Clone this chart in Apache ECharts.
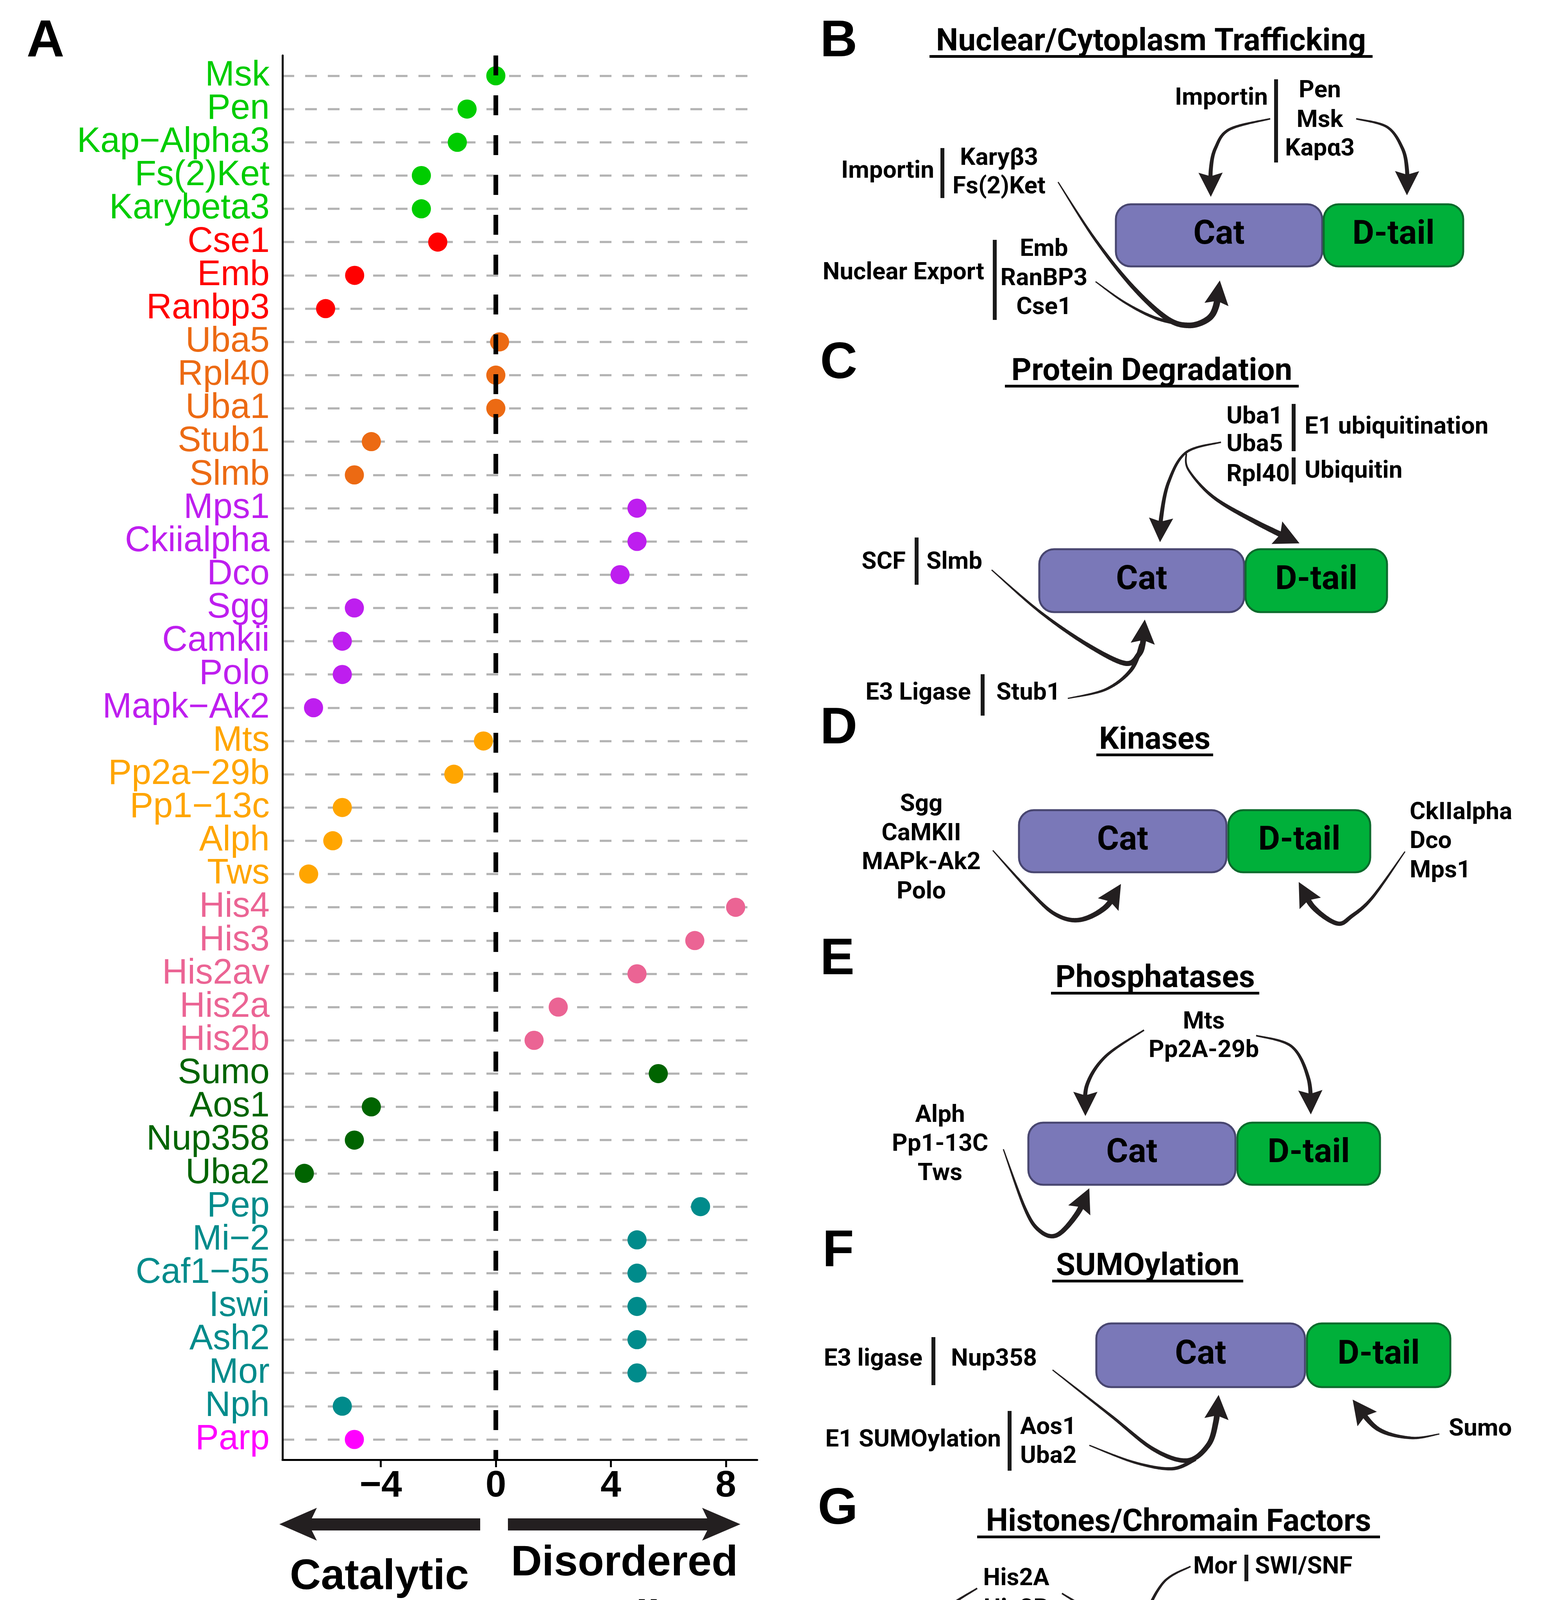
<!DOCTYPE html>
<html><head><meta charset="utf-8">
<script src="https://cdn.jsdelivr.net/npm/echarts@6/dist/echarts.min.js"></script>
<style>html,body{margin:0;padding:0;background:#fff}#c{width:3962px;height:4877px}</style>
</head><body><div id="c"></div>
<script>
// ---------------- DATA (panel A) ----------------
const categories = ['Msk','Pen','Kap\u2212Alpha3','Fs(2)Ket','Karybeta3','Cse1','Emb','Ranbp3','Uba5','Rpl40','Uba1','Stub1','Slmb',
  'Mps1','Ckiialpha','Dco','Sgg','Camkii','Polo','Mapk\u2212Ak2','Mts','Pp2a\u221229b','Pp1\u221213c','Alph','Tws',
  'His4','His3','His2av','His2a','His2b','Sumo','Aos1','Nup358','Uba2','Pep','Mi\u22122','Caf1\u221255','Iswi','Ash2','Mor','Nph','Parp'];
const values = [0, -1.00, -1.34, -2.59, -2.59, -2.02, -4.91, -5.92, 0.13, 0, 0, -4.33, -4.92,
  4.91, 4.91, 4.32, -4.92, -5.34, -5.34, -6.34, -0.43, -1.46, -5.34, -5.67, -6.51,
  8.34, 6.92, 4.91, 2.17, 1.33, 5.65, -4.33, -4.92, -6.66, 7.12, 4.91, 4.91, 4.91, 4.91, 4.91, -5.34, -4.92];
const groups = ['Nuclear Import','Nuclear Import','Nuclear Import','Nuclear Import','Nuclear Import',
  'Nuclear Export','Nuclear Export','Nuclear Export',
  'Degradation','Degradation','Degradation','Degradation','Degradation',
  'Kinase','Kinase','Kinase','Kinase','Kinase','Kinase','Kinase',
  'Phosphatase','Phosphatase','Phosphatase','Phosphatase','Phosphatase',
  'Histone','Histone','Histone','Histone','Histone',
  'SUMO','SUMO','SUMO','SUMO',
  'Chromatin factor','Chromatin factor','Chromatin factor','Chromatin factor','Chromatin factor','Chromatin factor','Chromatin factor',
  'Parp1'];
const functionNames = ['Nuclear Import','Nuclear Export','Degradation','Kinase','Phosphatase','Histone','Chromatin factor','Parp1','SUMO'];
const functionColors = ['#00CC00','#FF0000','#EC6A13','#BE1EEF','#FFA500','#EB6494','#008B8B','#FF00FF','#006400'];
const legendCol1 = ['Nuclear Import','Nuclear Export','Degradation','Kinase','Phosphatase'];
const legendCol2 = ['Histone','Chromatin factor','Parp1','SUMO'];
const xTicks = [-4, 0, 4, 8];
const xRange = [-7.42, 9.09];

// ---------------- helpers for diagram panels ----------------
const ARROW = '#231f20';
const G = [];
function txt(text, x, bl, align, size, weight, family) {
  size = size || 62; weight = weight || 'bold'; family = family || 'Roboto';
  G.push({type:'text', silent:true, z:10, style:{text:text, x:x, y:bl - 0.342*size, fill:'#000',
    fontSize:size, fontWeight:weight, fontFamily:family, align:align, verticalAlign:'middle',
    textAlign:align, textVerticalAlign:'middle'}});
}
function bar(x, y0, y1) {
  G.push({type:'rect', silent:true, z:10, shape:{x:x-5, y:y0, width:10, height:y1-y0}, style:{fill:'#1a1a1a'}});
}
function title(text, x0, x1, bl) {
  txt(text, (x0+x1)/2, bl, 'center', 80);
  G.push({type:'rect', silent:true, z:10, shape:{x:x0, y:bl+5, width:x1-x0, height:7}, style:{fill:'#000'}});
}
function letter(t, x, bl) { txt(t, x, bl, 'left', 132, 'bold', 'Liberation Sans'); }
function boxes(c0, c1, d0, d1, y0, y1) {
  G.push({type:'rect', silent:true, z:8, shape:{x:c0, y:y0, width:c1-c0, height:y1-y0, r:38},
    style:{fill:'#7A78B8', stroke:'#484670', lineWidth:5}});
  G.push({type:'rect', silent:true, z:8, shape:{x:d0, y:y0, width:d1-d0, height:y1-y0, r:38},
    style:{fill:'#00B03A', stroke:'#0C6B2C', lineWidth:5}});
  const ym = (y0+y1)/2;
  G.push({type:'text', silent:true, z:11, style:{text:'Cat', x:(c0+c1)/2, y:ym, fill:'#000', fontSize:86, fontWeight:'bold',
    fontFamily:'Roboto', align:'center', verticalAlign:'middle', textAlign:'center', textVerticalAlign:'middle'}});
  G.push({type:'text', silent:true, z:11, style:{text:'D-tail', x:(d0+d1)/2, y:ym, fill:'#000', fontSize:86, fontWeight:'bold',
    fontFamily:'Roboto', align:'center', verticalAlign:'middle', textAlign:'center', textVerticalAlign:'middle'}});
}
function catmull(pts, n) {
  const out = [];
  for (let i = 0; i < pts.length-1; i++) {
    const p0 = pts[Math.max(i-1,0)], p1 = pts[i], p2 = pts[i+1], p3 = pts[Math.min(i+2,pts.length-1)];
    for (let k = 0; k < n; k++) {
      const t = k/n, t2 = t*t, t3 = t2*t;
      const f = (a,b,c,d) => 0.5*((2*b)+(-a+c)*t+(2*a-5*b+4*c-d)*t2+(-a+3*b-3*c+d)*t3);
      out.push([f(p0[0],p1[0],p2[0],p3[0]), f(p0[1],p1[1],p2[1],p3[1])]);
    }
  }
  out.push(pts[pts.length-1]);
  return out;
}
function arrow(pts, w0, w1, head) {
  const s = catmull(pts, 30);
  const L = [0];
  for (let i = 1; i < s.length; i++) L.push(L[i-1] + Math.hypot(s[i][0]-s[i-1][0], s[i][1]-s[i-1][1]));
  const total = L[L.length-1];
  const stop = head ? total - head.len*0.5 : total;
  const left = [], right = [];
  for (let i = 0; i < s.length; i++) {
    if (L[i] > stop) break;
    const a = s[Math.max(i-1,0)], b = s[Math.min(i+1,s.length-1)];
    let dx = b[0]-a[0], dy = b[1]-a[1]; const d = Math.hypot(dx,dy)||1; dx/=d; dy/=d;
    const w = (w0 + (w1-w0)*L[i]/total)/2;
    left.push([s[i][0]-dy*w, s[i][1]+dx*w]);
    right.push([s[i][0]+dy*w, s[i][1]-dx*w]);
  }
  G.push({type:'polygon', silent:true, z:9, shape:{points:left.concat(right.reverse())}, style:{fill:ARROW}});
  if (head) {
    const tip = s[s.length-1];
    let j = L.findIndex(v => v >= total - head.len); if (j < 0) j = 0;
    const bp = s[j];
    let dx = tip[0]-bp[0], dy = tip[1]-bp[1]; const d = Math.hypot(dx,dy)||1; dx/=d; dy/=d;
    const bx = tip[0]-dx*head.len, by = tip[1]-dy*head.len, hw = head.w/2;
    const nx = tip[0]-dx*head.len*0.85, ny = tip[1]-dy*head.len*0.85;
    G.push({type:'polygon', silent:true, z:9, shape:{points:[tip,[bx-dy*hw,by+dx*hw],[nx,ny],[bx+dy*hw,by-dx*hw]]}, style:{fill:ARROW}});
  }
}
const H = {len:62, w:62};

// ---------------- Panel A extras ----------------
txt('A', 68, 154, 'left', 134, 'bold', 'Liberation Sans');
G.push({type:'polygon', silent:true, shape:{points:[[715,3902],[811,3860],[798,3887],[1229,3887],[1229,3918],[798,3918],[811,3944]]}, style:{fill:ARROW}});
G.push({type:'polygon', silent:true, shape:{points:[[1300,3887],[1810,3887],[1797,3860],[1895,3902],[1797,3944],[1810,3918],[1300,3918]]}, style:{fill:ARROW}});
txt('Catalytic', 971, 4075, 'center', 110, 'bold', 'Liberation Sans');
txt('Disordered', 1598, 4040, 'center', 110, 'bold', 'Liberation Sans');
txt('Tail', 1598, 4180, 'center', 110, 'bold', 'Liberation Sans');
txt('Function', 189, 4192, 'left', 102, 'bold', 'Liberation Sans');

// ---------------- Panel B ----------------
letter('B', 2099, 153);
title('Nuclear/Cytoplasm Trafficking', 2379, 3513, 136);
txt('Importin', 3245, 274, 'right'); bar(3266, 203, 416);
txt('Pen', 3378, 255, 'center'); txt('Msk', 3378, 331, 'center'); txt('Kap\u03b13', 3378, 404, 'center');
txt('Importin', 2391, 461, 'right'); bar(2412, 379, 507);
txt('Kary\u03b23', 2557, 428, 'center'); txt('Fs(2)Ket', 2557, 501, 'center');
txt('Nuclear Export', 2519, 721, 'right'); bar(2546, 614, 819);
txt('Emb', 2672, 661, 'center'); txt('RanBP3', 2672, 736, 'center'); txt('Cse1', 2672, 810, 'center');
boxes(2856, 3384, 3388, 3745, 523, 682);
arrow([[3251,304],[3147,331],[3111,379],[3099,434],[3099,504]], 4, 12, H);
arrow([[3471,304],[3550,325],[3589,379],[3601,434],[3601,500]], 4, 12, H);
arrow([[2708,466],[2800,609],[2896,731],[2985,814],[3042,833],[3090,818],[3112,785],[3122,718]], 3, 18, H);
arrow([[2804,721],[2880,775],[2960,815],[3042,833]], 3, 10, null);

// ---------------- Panel C ----------------
letter('C', 2099, 977);
title('Protein Degradation', 2572, 3324, 980);
txt('Uba1', 3139, 1090, 'left'); txt('Uba5', 3139, 1161, 'left'); txt('Rpl40', 3139, 1238, 'left');
bar(3311, 1034, 1155); bar(3311, 1171, 1240);
txt('E1 ubiquitination', 3339, 1116, 'left'); txt('Ubiquitin', 3339, 1229, 'left');
txt('SCF', 2318, 1462, 'right'); bar(2346, 1376, 1497); txt('Slmb', 2371, 1462, 'left');
txt('E3 Ligase', 2485, 1797, 'right'); bar(2515, 1726, 1832); txt('Stub1', 2550, 1797, 'left');
boxes(2660, 3184, 3188, 3550, 1406, 1567);
arrow([[3125,1132],[3036,1158],[2991,1234],[2972,1324],[2969,1388]], 4, 12, H);
arrow([[3036,1161],[3042,1203],[3106,1273],[3215,1337],[3326,1391]], 4, 16, {len:64, w:64});
arrow([[2538,1459],[2660,1565],[2782,1650],[2879,1698],[2915,1675],[2926,1640],[2930,1586]], 3, 16, H);
arrow([[2733,1788],[2830,1765],[2895,1715],[2922,1650]], 3, 12, null);

// ---------------- Panel D ----------------
letter('D', 2099, 1912);
title('Kinases', 2806, 3105, 1924);
boxes(2608, 3139, 3144, 3507, 2074, 2233);
txt('Sgg', 2358, 2082, 'center'); txt('CaMKII', 2358, 2157, 'center'); txt('MAPk-Ak2', 2358, 2231, 'center'); txt('Polo', 2358, 2306, 'center');
txt('CkIIalpha', 3608, 2103, 'left'); txt('Dco', 3608, 2177, 'left'); txt('Mps1', 3608, 2252, 'left');
arrow([[2541,2177],[2635,2281],[2700,2340],[2763,2355],[2830,2322],[2869,2263]], 3, 16, H);
arrow([[3596,2180],[3513,2297],[3460,2345],[3422,2364],[3361,2322],[3324,2258]], 3, 16, H);

// ---------------- Panel E ----------------
letter('E', 2099, 2503);
title('Phosphatases', 2690, 3223, 2534);
txt('Mts', 3081, 2639, 'center'); txt('Pp2A-29b', 3081, 2712, 'center');
boxes(2632, 3162, 3167, 3532, 2874, 3033);
txt('Alph', 2406, 2878, 'center'); txt('Pp1-13C', 2406, 2952, 'center'); txt('Tws', 2406, 3027, 'center');
arrow([[2928,2637],[2830,2704],[2782,2778],[2778,2857]], 4, 12, H);
arrow([[3215,2651],[3306,2679],[3349,2762],[3355,2853]], 4, 12, H);
arrow([[2568,2942],[2623,3093],[2660,3150],[2705,3162],[2757,3107],[2788,3042]], 3, 16, H);

// ---------------- Panel F ----------------
letter('F', 2105, 3250);
title('SUMOylation', 2693, 3182, 3271);
boxes(2806, 3340, 3345, 3712, 3388, 3551);
txt('E3 ligase', 2361, 3502, 'right'); bar(2389, 3423, 3546); txt('Nup358', 2434, 3502, 'left');
txt('E1 SUMOylation', 2562, 3709, 'right'); bar(2584, 3612, 3765);
txt('Aos1', 2611, 3677, 'left'); txt('Uba2', 2611, 3751, 'left');
txt('Sumo', 3708, 3681, 'left');
arrow([[2694,3507],[2843,3624],[2952,3710],[3038,3739],[3092,3700],[3112,3640],[3119,3571]], 3, 16, H);
arrow([[2788,3700],[2904,3744],[3000,3760],[3060,3735]], 3, 10, null);
arrow([[3684,3671],[3611,3681],[3525,3657],[3462,3583]], 3, 16, H);

// ---------------- Panel G ----------------
letter('G', 2093, 3910);
title('Histones/Chromain Factors', 2501, 3532, 3926);
boxes(2233, 2773, 2778, 3147, 4298, 4460);
txt('His2A', 2601, 4064, 'center'); txt('His2B', 2601, 4142, 'center');
txt('Mor', 3166, 4034, 'right'); bar(3190, 3980, 4048); txt('SWI/SNF', 3212, 4034, 'left');
txt('Iswi', 3196, 4149, 'center'); txt('Caf1-55', 3196, 4224, 'center'); bar(3334, 4100, 4228); txt('Imitation SWI', 3369, 4187, 'left');
txt('Mi-2', 3355, 4339, 'left'); bar(3519, 4287, 4354); txt('NuRD', 3540, 4339, 'left');
txt('Ash2', 3343, 4454, 'left'); bar(3519, 4402, 4471); txt('COMPASS', 3540, 4454, 'left');
txt('Pep', 3367, 4569, 'left'); bar(3517, 4519, 4587); txt('ZnF', 3540, 4569, 'left');
txt('His4', 3222, 4663, 'center'); txt('His3', 3222, 4738, 'center'); txt('His2Av', 3222, 4814, 'center');
bar(3361, 4609, 4832); txt('Histone', 3388, 4745, 'left');
txt('Parp1', 2206, 4584, 'right'); txt('Nph', 2182, 4753, 'left');
arrow([[2501,4066],[2416,4124],[2382,4196],[2377,4275]], 4, 12, H);
arrow([[2718,4079],[2794,4131],[2837,4196],[2845,4285]], 4, 12, H);
arrow([[3047,4010],[2977,4052],[2928,4153],[2916,4282]], 4, 12, H);
arrow([[3108,4161],[3062,4144],[3022,4160],[3013,4210],[3017,4278]], 4, 12, H);
arrow([[3333,4338],[3318,4303],[3282,4300],[3227,4325],[3174,4370]], 4, 14, H);
arrow([[3324,4451],[3306,4483],[3257,4492],[3208,4476],[3168,4453]], 4, 14, H);
arrow([[3330,4559],[3221,4569],[3123,4548],[3080,4512],[3052,4469]], 3, 14, H);
arrow([[3123,4719],[3026,4706],[2965,4649],[2940,4577],[2934,4498]], 3, 14, H);
arrow([[2255,4573],[2318,4620],[2395,4636],[2465,4605],[2495,4548],[2504,4494]], 3, 14, H);
arrow([[2340,4738],[2452,4749],[2562,4735],[2629,4649],[2644,4505]], 3, 14, H);

// ---------------- chart ----------------
const rich = {};
functionNames.forEach((f, i) => { rich['g' + i] = {color: functionColors[i], fontSize: 90, fontFamily: 'Liberation Sans'}; });
const series = functionNames.map((f, gi) => ({
  name: f, type: 'scatter', xAxisIndex: 1, yAxisIndex: 1, symbol: 'circle', symbolSize: 49, z: 2,
  itemStyle: {color: functionColors[gi], opacity: 1},
  data: categories.map((c, i) => groups[i] === f ? [values[i], c] : null).filter(d => d)
}));
series.push({type: 'line', xAxisIndex: 0, yAxisIndex: 0, symbol: 'none', z: 5, silent: true,
  data: [[0, 1], [0, 0]], lineStyle: {color: '#000', width: 12, type: [51, 51]}});
const legendBase = {orient: 'vertical', icon: 'circle', itemWidth: 50, itemHeight: 50, itemGap: 0, padding: 0,
  selectedMode: false, textStyle: {fontSize: 104, color: '#000', fontFamily: 'Liberation Sans', lineHeight: 114, padding: [0, 0, 0, 74]}};
const option = {
  backgroundColor: '#fff', animation: false,
  grid: [{left: 723, top: 142, width: 1215, height: 3595}, {left: 723, top: 194, width: 1215, height: 3491}],
  xAxis: [
    {gridIndex: 0, type: 'value', min: xRange[0], max: xRange[1],
      axisLine: {onZero: false, lineStyle: {color: '#000', width: 5}},
      axisTick: {show: true, customValues: xTicks, length: 19, lineStyle: {color: '#000', width: 5}},
      axisLabel: {customValues: xTicks, fontSize: 95, fontWeight: 'bold', color: '#000', fontFamily: 'Liberation Sans', margin: 20,
        formatter: v => String(v).replace('-', '\u2212')},
      splitLine: {show: false}},
    {gridIndex: 1, type: 'value', min: xRange[0], max: xRange[1], show: false}
  ],
  yAxis: [
    {gridIndex: 0, type: 'value', min: 0, max: 1, axisLine: {show: true, onZero: false, lineStyle: {color: '#000', width: 5}},
      axisTick: {show: false}, axisLabel: {show: false}, splitLine: {show: false}},
    {gridIndex: 1, type: 'category', data: categories, inverse: true, boundaryGap: false,
      axisLine: {show: false}, axisTick: {show: false, interval: 0},
      axisLabel: {interval: 0, margin: 33, fontSize: 90, fontFamily: 'Liberation Sans',
        formatter: (v, i) => '{g' + functionNames.indexOf(groups[categories.indexOf(v)]) + '|' + v + '}', rich: rich},
      splitLine: {show: true, interval: 0, lineStyle: {color: '#b3b3b3', width: 5.4, type: [30, 28]}}}
  ],
  legend: [Object.assign({}, legendBase, {data: legendCol1, left: 215, top: 4247}),
           Object.assign({}, legendBase, {data: legendCol2, left: 1103, top: 4235})],
  series: series,
  graphic: {elements: G}
};
const chart = echarts.init(document.getElementById('c'), null, {renderer: 'canvas', width: 3962, height: 4877});
chart.setOption(option);
</script>
</body></html>
